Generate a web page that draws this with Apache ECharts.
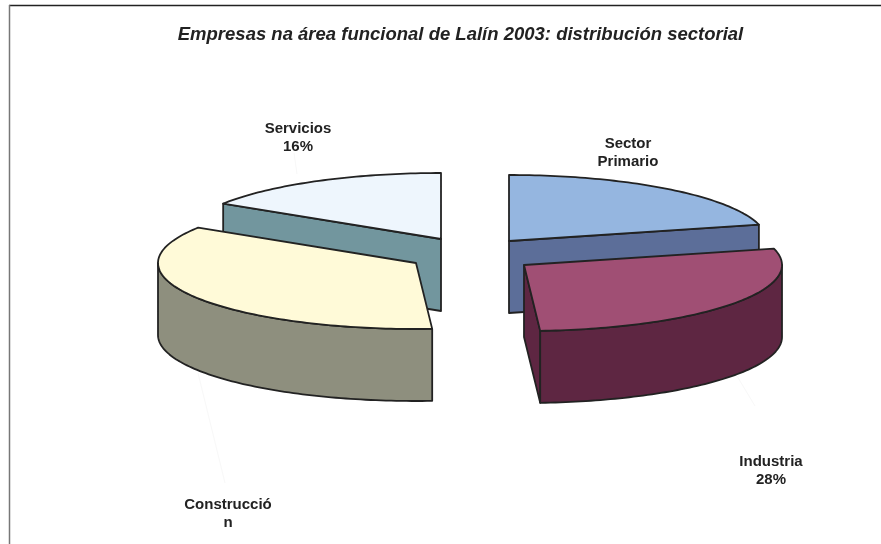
<!DOCTYPE html>
<html><head><meta charset="utf-8">
<style>html,body{margin:0;padding:0;background:#fff}#c{width:881px;height:544px}</style>
<script src="https://cdn.jsdelivr.net/npm/echarts@6/dist/echarts.min.js"></script>
</head><body><div id="c"></div>
<script>
const categories = ['Sector Primario','Industria','Construcción','Servicios'];
const shares = [21,28,35,16];
const labelTexts = ['Sector\nPrimario','Industria\n28%','Construcció\nn','Servicios\n16%'];
const titleText = 'Empresas na área funcional de Lalín 2003: distribución sectorial';

const topColors = ['#95B6E0','#A04F74','#FFFAD8','#EEF6FD'];
const wallColors = ['#5C6E99','#5E2642','#8E8F7E','#72969E'];
const apex = [[509,241],[524,265],[416,263],[441,239]];
const labelPos = [[628,153],[771,471],[228,514],[298,138]];
const leaders = [[[737,376],[755,406]],[[198,373],[225,483]],[[294,153],[297,174]]];
const RX=258, RY=66, DEPTH=72;
const INK='#222222';
const drawOrder=[3,0,2,1];

let cum=0; const total=shares.reduce((a,b)=>a+b,0);
const startA=[],endA=[];
shares.forEach((v,i)=>{startA[i]=cum/total*2*Math.PI;cum+=v;endA[i]=cum/total*2*Math.PI;});
const pt=(c,t,d)=>[c[0]+RX*Math.sin(t),c[1]-RY*Math.cos(t)+(d||0)];
function arc(c,a,b,d){const n=Math.max(2,Math.ceil((b-a)/0.02));const o=[];for(let i=0;i<=n;i++)o.push(pt(c,a+(b-a)*i/n,d));return o;}

const style=(fill)=>({fill,stroke:INK,lineWidth:1.8,lineJoin:'round'});
function poly(points,fill,z){return {type:'polygon',shape:{points},style:style(fill),z2:z};}
function cutFace(c,t,wall){const e=pt(c,t);return poly([c,e,[e[0],e[1]+DEPTH],[c[0],c[1]+DEPTH]],wall,1);}

function renderItem(params,api){
  const i=api.value(0);
  const c=apex[i],a=startA[i],b=endA[i],ch=[];
  const wall=wallColors[i];
  // straight cut faces that look toward the viewer
  if(Math.sin(b)>1e-6) ch.push(cutFace(c,b,wall));
  if(Math.sin(a)<-1e-6) ch.push(cutFace(c,a,wall));
  // outer rim: only the part in the front half of the ellipse
  const la=Math.max(a,Math.PI/2), lb=Math.min(b,Math.PI*1.5);
  if(lb>la){
    const top=arc(c,la,lb,0), bot=arc(c,la,lb,DEPTH).reverse();
    ch.push(poly(top.concat(bot),wall,2));
  }
  ch.push(poly([c].concat(arc(c,a,b,0)),topColors[i],3));
  return {type:'group',children:ch};
}

const chart=echarts.init(document.getElementById('c'),null,{renderer:'canvas'});
const labelStyle={font:'bold 15px "Liberation Sans", Arial, sans-serif',fill:'#222',align:'center',verticalAlign:'middle',lineHeight:18};
chart.setOption({
  animation:false,
  backgroundColor:'#fff',
  title:{text:titleText,left:455.5,top:20,textAlign:'center',textStyle:{fontFamily:'"Liberation Sans", Arial, sans-serif',fontStyle:'italic',fontWeight:'bold',fontSize:18.5,color:'#222'}},
  graphic:[
    {type:'line',z:0,shape:{x1:9,y1:5.5,x2:881,y2:5.5},style:{stroke:'#222',lineWidth:1.5}},
    {type:'line',z:0,shape:{x1:9.5,y1:5,x2:9.5,y2:544},style:{stroke:'#777',lineWidth:1.5}}
  ].concat(leaders.map(l=>({type:'line',z:0,shape:{x1:l[0][0],y1:l[0][1],x2:l[1][0],y2:l[1][1]},style:{stroke:'#F8F8F8',lineWidth:1}})))
   .concat(labelTexts.map((t,i)=>({type:'text',z:5,x:labelPos[i][0],y:labelPos[i][1],style:Object.assign({text:t},labelStyle)}))),
  series:[{type:'custom',coordinateSystem:'none',renderItem,silent:true,z:2,
    data:drawOrder.map(i=>({name:categories[i],value:[i,shares[i]]}))}]
});
</script></body></html>
